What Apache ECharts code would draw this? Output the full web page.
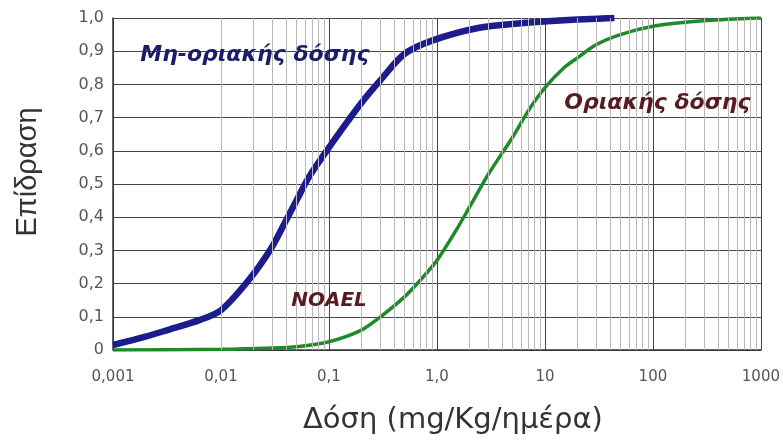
<!DOCTYPE html>
<html><head><meta charset="utf-8">
<script src="https://cdn.jsdelivr.net/npm/echarts@6/dist/echarts.min.js"></script>
<style>html,body{margin:0;padding:0;background:#fff}#c{width:783px;height:441px}</style>
</head><body><div id="c"></div>
<script>
// Data
const xTickValues = [0.001, 0.01, 0.1, 1, 10, 100, 1000];
const xTickLabels = ['0,001', '0,01', '0,1', '1,0', '10', '100', '1000'];
const yTickLabels = ['0', '0,1', '0,2', '0,3', '0,4', '0,5', '0,6', '0,7', '0,8', '0,9', '1,0'];
const minorMultipliers = [2, 3, 4, 5, 6, 7, 8, 9];

const nonThresholdDose = [0.001, 0.002, 0.0032, 0.0063, 0.01, 0.018, 0.029, 0.04, 0.05, 0.065, 0.1, 0.15, 0.2, 0.3, 0.5, 0.9, 2.4, 6, 15, 44];
const nonThresholdEffect = [0.015, 0.04, 0.06, 0.09, 0.12, 0.21, 0.305, 0.39, 0.45, 0.52, 0.61, 0.69, 0.745, 0.813, 0.892, 0.932, 0.97, 0.984, 0.993, 1.0];

const thresholdDose = [0.001, 0.01, 0.03, 0.05, 0.1, 0.2, 0.3, 0.5, 0.7, 1.0, 1.5, 2, 3, 5, 7, 10, 15, 20, 30, 50, 100, 200, 500, 1000];
const thresholdEffect = [0, 0.002, 0.006, 0.01, 0.025, 0.06, 0.1, 0.16, 0.21, 0.27, 0.36, 0.43, 0.53, 0.64, 0.72, 0.79, 0.85, 0.88, 0.92, 0.95, 0.975, 0.987, 0.996, 1.0];

const minorValues = [];
xTickValues.slice(0, -1).forEach(d => minorMultipliers.forEach(m => minorValues.push(d * m)));

const chart = echarts.init(document.getElementById('c'));
const annFont = {fontFamily: 'DejaVu Sans', fontStyle: 'italic', fontWeight: 'bold', fontSize: 22};
chart.setOption({
  animation: false,
  grid: {left: 113, right: 18, top: 18, bottom: 91},
  xAxis: {
    type: 'log', logBase: 10, min: 0.001, max: 1000, splitNumber: 6,
    name: 'Δόση (mg/Kg/ημέρα)', nameLocation: 'middle', nameGap: 56,
    nameTextStyle: {fontFamily: 'DejaVu Sans', fontSize: 29, color: '#333', padding: [0, 0, 0, 32]},
    axisLine: {lineStyle: {color: '#333', width: 1.5}},
    axisTick: {show: false},
    axisLabel: {color: '#555', fontFamily: 'DejaVu Sans', fontSize: 15, margin: 20,
      formatter: v => xTickLabels[Math.round(Math.log10(v)) + 3]},
    splitLine: {show: true, lineStyle: {color: '#444', width: 1}}
  },
  yAxis: {
    type: 'value', min: 0, max: 1, interval: 0.1,
    name: 'Επίδραση', nameLocation: 'middle', nameGap: 71,
    nameTextStyle: {fontFamily: 'Liberation Sans', fontSize: 29, color: '#333', padding: [0, 0, 0, 24]},
    axisLine: {show: true, lineStyle: {color: '#333', width: 1.5}},
    axisTick: {show: false},
    axisLabel: {color: '#555', fontFamily: 'DejaVu Sans', fontSize: 16, margin: 9,
      formatter: v => yTickLabels[Math.round(v * 10)]},
    splitLine: {show: true, lineStyle: {color: '#444', width: 1}}
  },
  series: [
    {
      type: 'line', data: [], silent: true,
      markLine: {silent: true, symbol: 'none', label: {show: false},
        lineStyle: {color: '#b8b8b8', width: 1, type: 'solid'},
        data: minorValues.map(v => ({xAxis: v}))}
    },
    {
      type: 'line', smooth: 0.3, showSymbol: false,
      data: thresholdDose.map((d, i) => [d, thresholdEffect[i]]),
      lineStyle: {color: '#1e8a2a', width: 3.5}, z: 3,
      markPoint: {symbolSize: 0, data: [
        {coord: [110, 0.744], label: {show: true, formatter: 'Οριακής δόσης', color: '#5a1a22', ...annFont}},
        {coord: [0.1, 0.148], label: {show: true, formatter: 'NOAEL', color: '#5a1a22', ...annFont, fontSize: 20}}
      ]}
    },
    {
      type: 'line', smooth: 0.3, showSymbol: false,
      data: nonThresholdDose.map((d, i) => [d, nonThresholdEffect[i]]),
      lineStyle: {color: '#1c1c8c', width: 6.5}, z: 4,
      markPoint: {symbolSize: 0, data: [
        {coord: [0.0206, 0.889], label: {show: true, formatter: 'Μη-οριακής δόσης', color: '#1c1c6a', ...annFont}}
      ]}
    }
  ]
});
</script></body></html>
